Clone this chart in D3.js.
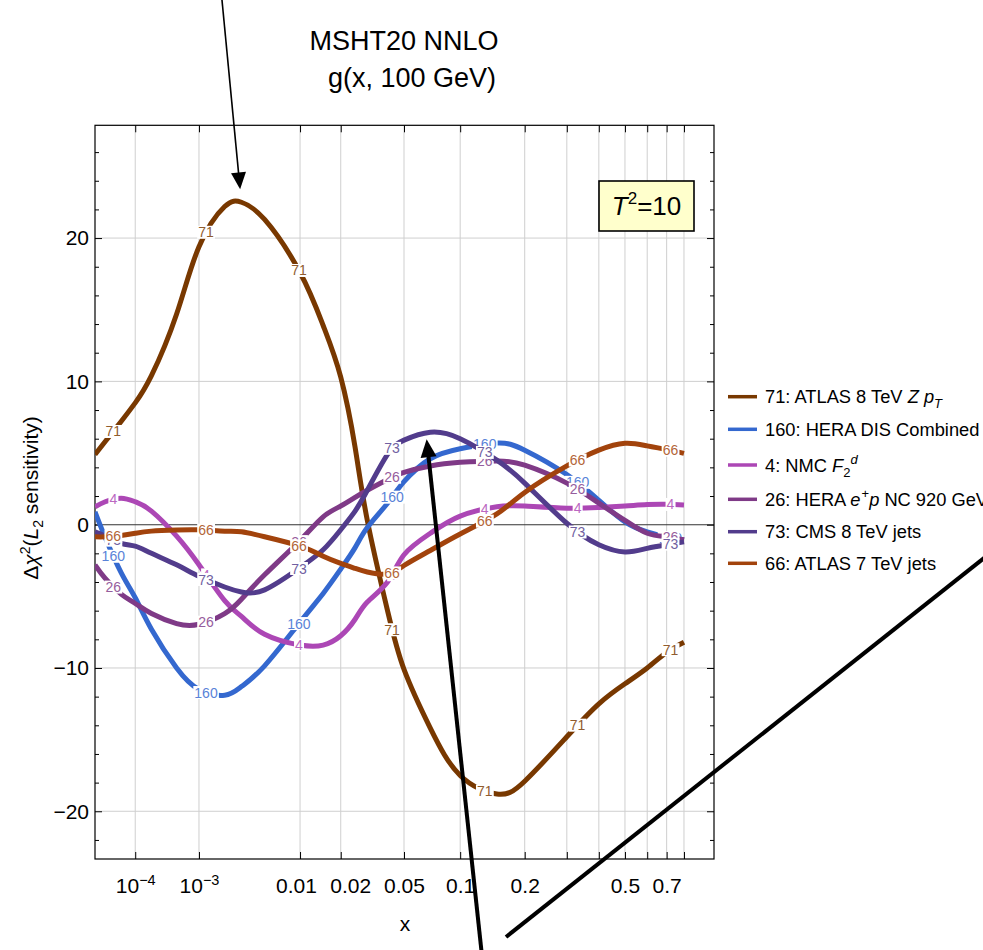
<!DOCTYPE html>
<html>
<head>
<meta charset="utf-8">
<script src="https://cdn.jsdelivr.net/npm/d3@7"></script>
<style>
  body { margin: 0; background: #fff; }
  svg { display: block; }
  text { font-family: "Liberation Sans", Arial, Helvetica, sans-serif; fill: #000; }
</style>
</head>
<body>
<svg id="chart" width="983" height="950"></svg>
<script>
// ---- data -------------------------------------------------------------
// x sampling points shared by every curve
const xGrid = [1e-5, 2e-5, 5e-5, 1e-4, 2e-4, 5e-4, 1e-3, 2e-3, 3e-3, 5e-3,
               0.01, 0.015, 0.02, 0.025, 0.03, 0.04, 0.05, 0.07, 0.1, 0.15, 0.2,
               0.3, 0.4, 0.5, 0.6, 0.7, 0.8];

// Δχ² (L2 sensitivity) per data set, on xGrid
const atlasZpt71  = [4.9, 5.8, 7.2, 8.5, 10.4, 14.7, 19.4, 22.2, 22.5, 21.3,
                     17.6, 13.9, 10.3, 5.4, 0.3, -6.0, -10.1, -14.2, -17.5, -18.8, -17.9,
                     -14.8, -12.5, -11.1, -10.0, -8.9, -8.2];
const heraDis160  = [0.9, -0.9, -3.35, -5.1, -7.3, -10.0, -11.5, -11.9, -11.3, -9.85,
                     -6.8, -4.8, -3.1, -1.6, -0.2, 1.5, 3.0, 4.6, 5.3, 5.7, 5.2,
                     3.5, 1.7, 0.2, -0.5, -0.85, -1.05];
const nmcF2d4     = [1.25, 1.6, 1.85, 1.6, 0.95, -0.8, -2.8, -5.3, -6.4, -7.65,
                     -8.4, -8.4, -7.75, -6.6, -5.4, -4.0, -2.1, -0.6, 0.6, 1.25, 1.3,
                     1.15, 1.2, 1.3, 1.4, 1.42, 1.38];
const heraNc26    = [-2.8, -3.75, -4.85, -5.5, -6.2, -6.9, -6.95, -6.2, -5.2, -3.5,
                     -1.1, 0.55, 1.3, 1.9, 2.4, 3.15, 3.65, 4.1, 4.35, 4.45, 4.15,
                     2.9, 1.5, 0.3, -0.6, -0.85, -1.05];
const cms8Jets73  = [-0.5, -0.8, -1.3, -1.5, -2.0, -2.8, -3.6, -4.35, -4.7, -4.55,
                     -3.0, -1.75, -0.35, 0.95, 2.4, 4.9, 5.9, 6.45, 6.0, 4.5, 2.9,
                     0.1, -1.4, -1.9, -1.65, -1.4, -1.2];
const atlas7Jets66 = [-0.85, -0.85, -0.75, -0.6, -0.45, -0.37, -0.36, -0.45, -0.5, -0.84,
                      -1.5, -2.2, -2.7, -3.05, -3.3, -3.45, -2.85, -1.8, -0.65, 0.75, 2.25,
                      4.1, 5.2, 5.68, 5.5, 5.25, 4.98];

const seriesIds    = ["71", "160", "4", "26", "73", "66"];
const seriesValues = [atlasZpt71, heraDis160, nmcF2d4, heraNc26, cms8Jets73, atlas7Jets66];
const seriesColors = ["#783800", "#3468cf", "#ac47b5", "#7f3a87", "#523c8c", "#a2430c"];

// where the data-set number is written along each curve
const labelXs = [3.25e-5, 1.22e-3, 9.8e-3, 0.0426, 0.1317, 0.331, 0.721];

// axis ticks
const xTickVals   = [1e-4, 1e-3, 0.01, 0.02, 0.05, 0.1, 0.2, 0.3, 0.4, 0.5, 0.6, 0.7, 0.8];
const xTickLabels = {1e-4: ["10", "\u22124"], 1e-3: ["10", "\u22123"], 0.01: "0.01", 0.02: "0.02",
                     0.05: "0.05", 0.1: "0.1", 0.2: "0.2", 0.5: "0.5", 0.7: "0.7"};
const yMajor = [-20, -10, 0, 10, 20];
const yMinor = d3.range(-22, 27, 2).filter(v => v % 10 !== 0);

// ---- layout -----------------------------------------------------------
const svg = d3.select("#chart");
const P = {left: 95, right: 714, top: 125.3, bottom: 859};

const x = d3.scalePow().exponent(0.2).domain([1e-5, 1]).range([P.left, P.right]);
const y = d3.scaleLinear().domain([-23.33, 27.87]).range([P.bottom, P.top]);

// grid
const grid = svg.append("g").attr("stroke", "#cfcfcf").attr("stroke-width", 1);
grid.selectAll("line.vx").data(xTickVals).join("line")
  .attr("x1", d => x(d)).attr("x2", d => x(d)).attr("y1", P.top).attr("y2", P.bottom);
grid.selectAll("line.hy").data(yMajor.filter(v => v !== 0)).join("line")
  .attr("x1", P.left).attr("x2", P.right).attr("y1", d => y(d)).attr("y2", d => y(d));
svg.append("line").attr("x1", P.left).attr("x2", P.right)
  .attr("y1", y(0)).attr("y2", y(0)).attr("stroke", "#333").attr("stroke-width", 1.1);

// axes (ticks point inward)
const fontTick = "21px";
function styleAxis(g) { g.select(".domain").remove(); g.selectAll("line").attr("stroke", "#000"); }

// crowded neighbours 0.01 / 0.02 are nudged apart
const xLabelNudge = {0.01: -4, 0.02: 9.5};
const gx = svg.append("g").attr("transform", `translate(0,${P.bottom})`)
  .call(d3.axisBottom(x).tickValues(xTickVals).tickSize(-7).tickPadding(19).tickFormat(() => ""))
  .call(styleAxis);
gx.selectAll(".tick text").each(function(d) {
  const t = d3.select(this).attr("font-size", fontTick).attr("font-family", null)
    .attr("x", xLabelNudge[d] || 0);
  const lab = xTickLabels[d];
  if (!lab) return;
  if (Array.isArray(lab)) {
    t.append("tspan").text(lab[0]);
    t.append("tspan").attr("font-size", "14.5px").attr("dy", "-0.55em").text(lab[1]);
  } else t.text(lab);
});
svg.append("g").attr("transform", `translate(0,${P.top})`)
  .call(d3.axisTop(x).tickValues(xTickVals).tickSize(-7).tickFormat(() => ""))
  .call(styleAxis);

const gy = svg.append("g").attr("transform", `translate(${P.left},0)`)
  .call(d3.axisLeft(y).tickValues(yMajor).tickSize(-7).tickPadding(6))
  .call(styleAxis);
gy.selectAll(".tick text").attr("font-size", fontTick).attr("font-family", null);
svg.append("g").attr("transform", `translate(${P.left},0)`)
  .call(d3.axisLeft(y).tickValues(yMinor).tickSize(-4).tickFormat(() => "")).call(styleAxis);
svg.append("g").attr("transform", `translate(${P.right},0)`)
  .call(d3.axisRight(y).tickValues(yMajor).tickSize(-7).tickFormat(() => "")).call(styleAxis);
svg.append("g").attr("transform", `translate(${P.right},0)`)
  .call(d3.axisRight(y).tickValues(yMinor).tickSize(-4).tickFormat(() => "")).call(styleAxis);

// frame
svg.append("rect").attr("x", P.left).attr("y", P.top)
  .attr("width", P.right - P.left).attr("height", P.bottom - P.top)
  .attr("fill", "none").attr("stroke", "#000").attr("stroke-width", 1.2);

// ---- curves with inline data-set labels -------------------------------
svg.append("clipPath").attr("id", "plotClip").append("rect")
  .attr("x", P.left).attr("y", P.top).attr("width", P.right - P.left).attr("height", P.bottom - P.top);
const plot = svg.append("g").attr("clip-path", "url(#plotClip)");

const line = d3.line().x(d => x(d[0])).y(d => y(d[1])).curve(d3.curveNatural);

function pointAtX(node, px) {
  let lo = 0, hi = node.getTotalLength();
  for (let i = 0; i < 40; i++) {
    const mid = (lo + hi) / 2;
    if (node.getPointAtLength(mid).x < px) lo = mid; else hi = mid;
  }
  return node.getPointAtLength((lo + hi) / 2);
}

seriesIds.forEach((id, i) => {
  const color = seriesColors[i];
  const pts = xGrid.map((xv, k) => [xv, seriesValues[i][k]]);
  const path = plot.append("path").datum(pts)
    .attr("d", line).attr("fill", "none").attr("stroke", color)
    .attr("stroke-width", 5).attr("stroke-linejoin", "round");
  const node = path.node();
  const textColor = d3.interpolateRgb(color, "#ffffff")(0.18);
  labelXs.forEach(lx => {
    const p = pointAtX(node, x(lx));
    const g = plot.append("g").attr("transform", `translate(${p.x},${p.y})`);
    const t = g.append("text").attr("text-anchor", "middle").attr("dy", "0.36em")
      .attr("font-size", "14px").style("fill", textColor).text(id);
    const b = t.node().getBBox();
    g.insert("rect", "text").attr("x", b.x - 1).attr("y", b.y + 1.5)
      .attr("width", b.width + 2).attr("height", b.height - 3).attr("fill", "#fff");
  });
});

// ---- legend -----------------------------------------------------------
const legendRows = [396.7, 429.3, 465, 499.3, 531.7, 563.3];
const legend = svg.append("g").attr("font-size", "18.3px");
const legendText = [
  [["71: ATLAS 8 TeV "], ["Z", "i"], [" "], ["p", "i"], ["T", "isub"]],
  [["160: HERA DIS Combined"]],
  [["4: NMC "], ["F", "i"], ["2", "sub"], ["d", "isup2"]],
  [["26: HERA "], ["e", "i"], ["+", "sup"], ["p", "i"], [" NC 920 GeV"]],
  [["73: CMS 8 TeV jets"]],
  [["66: ATLAS 7 TeV jets"]]
];
seriesIds.forEach((id, i) => {
  const ly = legendRows[i];
  legend.append("line").attr("x1", 728).attr("x2", 757).attr("y1", ly).attr("y2", ly)
    .attr("stroke", seriesColors[i]).attr("stroke-width", 3.5);
  const t = legend.append("text").attr("x", 765).attr("y", ly + 6.5);
  let shift = 0;
  legendText[i].forEach(([s, st]) => {
    const ts = t.append("tspan").text(s);
    let target = 0;
    if (st && st.startsWith("i")) ts.attr("font-style", "italic");
    if (st && st.includes("sub")) { target = 5; ts.attr("font-size", "13px"); }
    if (st && st.includes("sup")) { target = -8; ts.attr("font-size", "13px"); }
    if (st === "sup") ts.attr("dx", 1);
    if (target !== shift) { ts.attr("dy", target - shift); shift = target; }
  });
});

// ---- titles and labels ------------------------------------------------
svg.append("text").attr("x", 404).attr("y", 50).attr("text-anchor", "middle")
  .attr("font-size", "27px").text("MSHT20 NNLO");
svg.append("text").attr("x", 412).attr("y", 87).attr("text-anchor", "middle")
  .attr("font-size", "27px").text("g(x, 100 GeV)");

svg.append("text").attr("x", 405).attr("y", 931).attr("text-anchor", "middle")
  .attr("font-size", "21px").text("x");

const yl = svg.append("text").attr("transform", "translate(38,498) rotate(-90)")
  .attr("text-anchor", "middle").attr("font-size", "21px");
yl.append("tspan").text("\u0394");
yl.append("tspan").attr("font-style", "italic").text("\u03c7");
yl.append("tspan").attr("font-size", "14px").attr("dy", -8).text("2");
yl.append("tspan").attr("dy", 8).text("(");
yl.append("tspan").attr("font-style", "italic").text("L");
yl.append("tspan").attr("font-size", "14px").attr("dy", 5).text("2");
yl.append("tspan").attr("dy", -5).text(" sensitivity)");

// T^2 tolerance box
svg.append("rect").attr("x", 599).attr("y", 181).attr("width", 95).attr("height", 50)
  .attr("fill", "#ffffcc").attr("stroke", "#000").attr("stroke-width", 1.6);
const tt = svg.append("text").attr("x", 646.5).attr("y", 215).attr("text-anchor", "middle")
  .attr("font-size", "26px");
tt.append("tspan").attr("font-style", "italic").text("T");
tt.append("tspan").attr("font-size", "17px").attr("dy", -11).text("2");
tt.append("tspan").attr("dy", 11).text("=10");

// ---- arrows -----------------------------------------------------------
function arrow(x0, y0, x1, y1, width, headLen, headW) {
  const dx = x1 - x0, dy = y1 - y0, L = Math.hypot(dx, dy);
  const ux = dx / L, uy = dy / L;
  const bx = x1 - ux * headLen, by = y1 - uy * headLen;
  svg.append("line").attr("x1", x0).attr("y1", y0).attr("x2", bx + ux * 2).attr("y2", by + uy * 2)
    .attr("stroke", "#000").attr("stroke-width", width);
  svg.append("polygon").attr("fill", "#000").attr("points", [
    [x1, y1], [bx - uy * headW / 2, by + ux * headW / 2], [bx + uy * headW / 2, by - ux * headW / 2]
  ].map(p => p.join(",")).join(" "));
}
// toward the peak of data set 71
arrow(221.6, -4, x(0.00291), y(23.4), 1.6, 17, 15);
// toward the peak of data set 73
arrow(482, 956, x(0.0669), y(5.96), 4, 18, 16);
svg.append("line").attr("x1", 506).attr("y1", 937).attr("x2", 1010).attr("y2", 537.5)
  .attr("stroke", "#000").attr("stroke-width", 4);
</script>
</body>
</html>
